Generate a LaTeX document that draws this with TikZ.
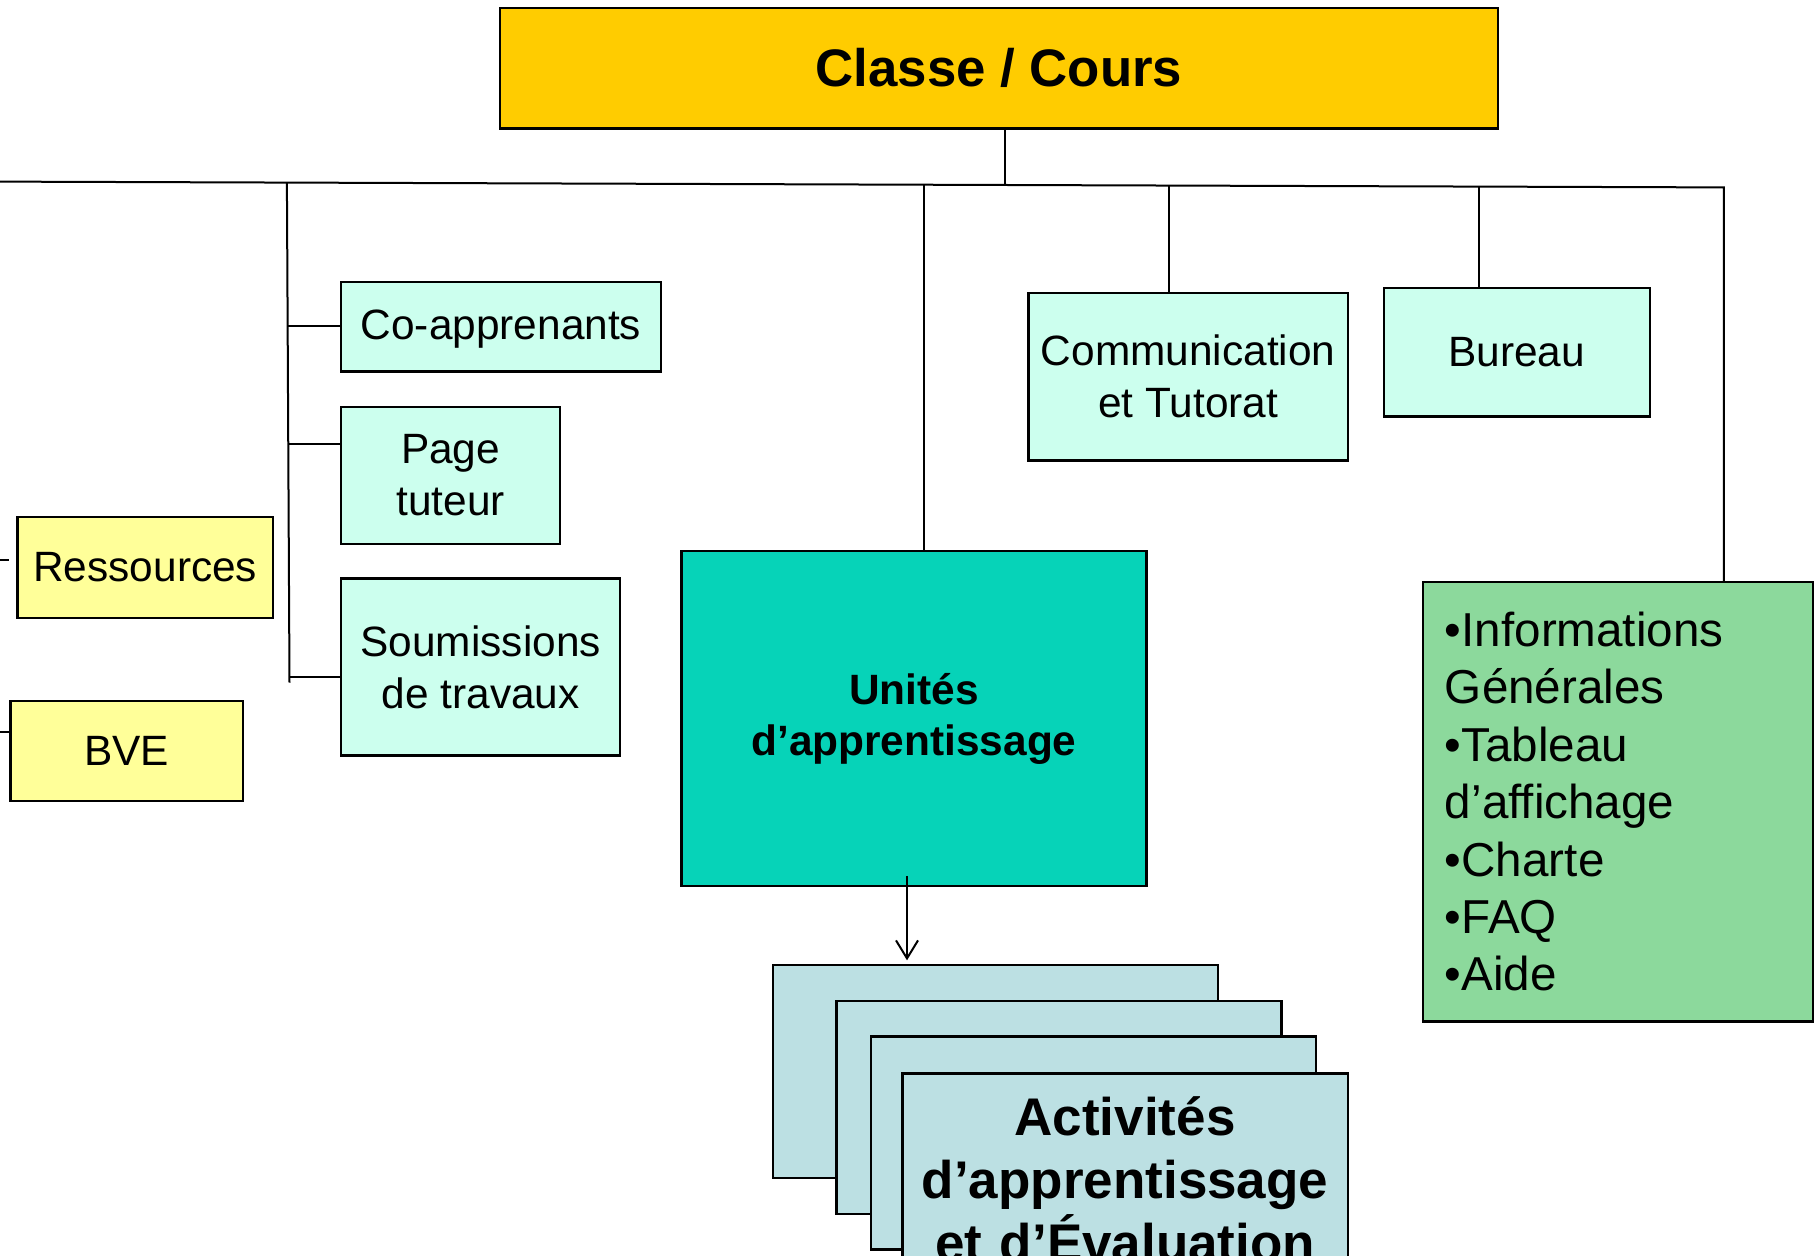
\documentclass[tikz,border=0pt]{standalone}
\usepackage{fontspec}
\setmainfont{Liberation Sans}
\usetikzlibrary{arrows.meta,calc}
\definecolor{gold}{RGB}{255,204,0}
\definecolor{mint}{RGB}{204,255,238}
\definecolor{paleyellow}{RGB}{255,255,153}
\definecolor{tealbox}{RGB}{6,211,184}
\definecolor{leaf}{RGB}{140,217,156}
\definecolor{stackblue}{RGB}{188,224,227}
\tikzset{
  box/.style={draw=black, line width=1.15pt, inner sep=0pt, align=center, anchor=north west},
  txt/.style={font=\fontsize{21.2}{26}\selectfont},
  conn/.style={draw=black, line width=1pt},
  mintbox/.style={box, fill=mint, txt},
  yelbox/.style={box, fill=paleyellow, txt},
  stackbox/.style={box, fill=stackblue, minimum width=222.5pt, minimum height=106.5pt},
}
\begin{document}
\begin{tikzpicture}[x=0.5pt,y=-0.5pt]
\useasboundingbox (0,0) rectangle (1814,1255);
\clip (0,0) rectangle (1814,1255);

% nodes
\node[box, fill=gold, minimum width=499.2pt, minimum height=60.2pt,
      font=\bfseries\fontsize{26.4}{32}\selectfont] (classe) at (498.6,6.9) {Classe / Cours};
\node[mintbox, minimum width=159.7pt, minimum height=44.6pt, text depth=2pt] (coapp) at (340.1,281.1) {Co-apprenants};
\node[mintbox, minimum width=109.4pt, minimum height=68.3pt] (page) at (340.1,406.1) {Page\\tuteur};
\node[mintbox, minimum width=139.4pt, minimum height=88.5pt] (soum) at (340.1,577.3) {Soumissions\\de travaux};
\node[yelbox, minimum width=127.9pt, minimum height=50.3pt] (ress) at (16.2,516.0) {Ressources};
\node[yelbox, minimum width=116.3pt, minimum height=49.8pt] (bve) at (9.3,699.9) {BVE};
\node[box, fill=tealbox, minimum width=232.5pt, minimum height=167.8pt,
      font=\bfseries\fontsize{21.2}{25.5}\selectfont] (unites) at (680.3,549.5) {Unités\\d’apprentissage};
\node[mintbox, minimum width=159.7pt, minimum height=83.9pt] (comm) at (1027.3,291.5) {Communication\\et Tutorat};
\node[mintbox, minimum width=133.1pt, minimum height=64.2pt] (bureau) at (1382.5,286.9) {Bureau};
\node[box, fill=leaf, align=left, inner xsep=11pt, inner ysep=0pt, text width=173pt,
      minimum height=219.8pt, font=\fontsize{23.8}{28.7}\selectfont] (green) at (1421.8,580.8)
      {•Informations\\Générales\\•Tableau\\d’affichage\\•Charte\\•FAQ\\•Aide};

\node[stackbox] (stack1) at (771.7,963.7) {};
\node[stackbox] (stack2) at (835.3,999.6) {};
\node[stackbox] (stack3) at (870.0,1035.4) {};
\node[box, fill=stackblue, inner xsep=0pt, inner ysep=11.3pt, text width=222.7pt,
      font=\bfseries\fontsize{26.5}{31.5}\selectfont] (stack4) at (901.2,1072.4)
      {Activités\\d’apprentissage\\et d’Évaluation};

% bus
\coordinate (busL) at (0,181.6);
\coordinate (busR) at (1723.8,187.4);
\coordinate (bA) at (286.9,182.6);
\coordinate (bAend) at (289.5,682.6);
\coordinate (bU) at (924.4,184.7);
\coordinate (bC) at (1005.3,185.0);
\coordinate (bCo) at (1168.5,185.5);
\coordinate (bB) at (1478.5,186.6);
\coordinate (tCo) at (287.6,325.6);
\coordinate (tPa) at (288.3,444.2);
\coordinate (tSo) at (289.4,676.8);
\coordinate (sR0) at (0,560);
\coordinate (sR1) at (9.3,560);
\coordinate (sB) at (0,732.3);
\coordinate (aS) at (907,875.8);

\draw[conn] (busL) -- (busR) -- (busR |- green.north);
\draw[conn] (bC |- classe.south) -- (bC);
\draw[conn] (bA) -- (bAend);
\draw[conn] (tCo) -- (tCo -| coapp.west);
\draw[conn] (tPa) -- (tPa -| page.west);
\draw[conn] (tSo) -- (tSo -| soum.west);
\draw[conn] (bU) -- (bU |- unites.north);
\draw[conn] (bCo) -- (bCo |- comm.north);
\draw[conn] (bB) -- (bB |- bureau.north);
\draw[conn] (sR0) -- (sR1);
\draw[conn] (sB) -- (sB -| bve.west);
\draw[conn, -{Straight Barb[length=9pt,width=11pt]}, shorten >=1.7pt] (aS) -- (aS |- stack1.north);
\end{tikzpicture}
\end{document}
